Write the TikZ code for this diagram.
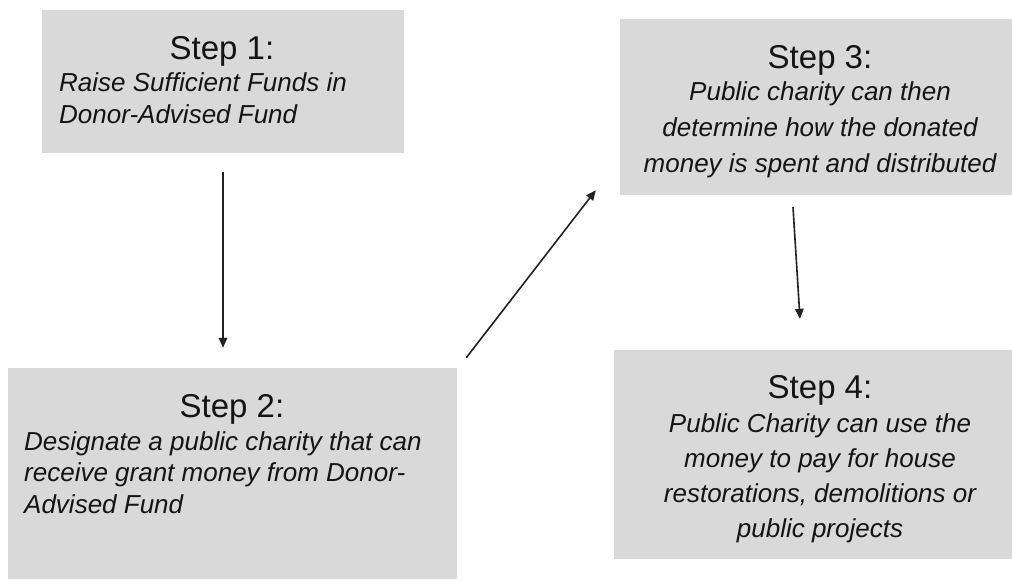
\documentclass[tikz,border=0pt]{standalone}
\usepackage{fontspec}
\setmainfont{Liberation Sans}
\usetikzlibrary{arrows.meta,calc}
\definecolor{boxgray}{HTML}{D9D9D9}
\definecolor{ink}{HTML}{141414}
\definecolor{wire}{HTML}{222222}
\begin{document}
\begin{tikzpicture}[x=1pt,y=-1pt,
  stepbox/.style={draw=none,fill=boxgray,rectangle,inner sep=0pt},
  steptitle/.style={anchor=base,inner sep=0pt,text=ink,font=\fontsize{33}{40}\selectfont},
  stepbody/.style={inner sep=0pt,text=ink},
  flow/.style={draw=wire,line width=1.6pt,-{Triangle[length=10pt,width=8.5pt]}}]
\useasboundingbox[fill=white] (0,0) rectangle (1012,579);

% boxes
\node[stepbox,minimum width=362pt,minimum height=143pt] (s1) at (223,81.5) {};
\node[stepbox,minimum width=449pt,minimum height=211pt] (s2) at (232.5,473.5) {};
\node[stepbox,minimum width=392pt,minimum height=176pt] (s3) at (816,107) {};
\node[stepbox,minimum width=398pt,minimum height=209pt] (s4) at (813,454.5) {};

% step 1
\node[steptitle] (t1) at (222,59) {Step 1:};
\node[stepbody,anchor=base west] (b1) at (59,91)
  {\fontsize{26}{32.7}\selectfont\itshape\begin{tabular}[t]{@{}l@{}}
   Raise Sufficient Funds in\\ Donor-Advised Fund\end{tabular}};

% step 2
\node[steptitle] (t2) at (232,417) {Step 2:};
\node[stepbody,anchor=base west] (b2) at (24,450)
  {\fontsize{26}{31.7}\selectfont\itshape\begin{tabular}[t]{@{}l@{}}
   Designate a public charity that can\\ receive grant money from Donor-\\ Advised Fund\end{tabular}};

% step 3
\node[steptitle] (t3) at (820,68) {Step 3:};
\node[stepbody,anchor=base] (b3) at (820,100)
  {\fontsize{26}{36}\selectfont\itshape\begin{tabular}[t]{@{}c@{}}
   Public charity can then\\ determine how the donated\\ money is spent and distributed\end{tabular}};

% step 4
\node[steptitle] (t4) at (820,398) {Step 4:};
\node[stepbody,anchor=base] (b4) at (820,432)
  {\fontsize{26}{35.3}\selectfont\itshape\begin{tabular}[t]{@{}c@{}}
   Public Charity can use the\\ money to pay for house\\ restorations, demolitions or\\ public projects\end{tabular}};

% connector ends, set off from the boxes
\coordinate (a1s) at ($(s1.south)+(0,19)$);
\coordinate (a1e) at ($(s1.south |- s2.north)+(0,-20)$);
\coordinate (a2s) at ($(s2.north east)+(9,-10)$);
\coordinate (a2e) at ($(s3.south west)+(-24,-5)$);
\coordinate (a3s) at ($(s3.south)+(-23,12)$);
\coordinate (a3e) at ($(s4.north)+(-13,-31)$);

\draw[flow] (a1s) -- (a1e);
\draw[flow] (a2s) -- (a2e);
\draw[flow] (a3s) -- (a3e);
\end{tikzpicture}
\end{document}
